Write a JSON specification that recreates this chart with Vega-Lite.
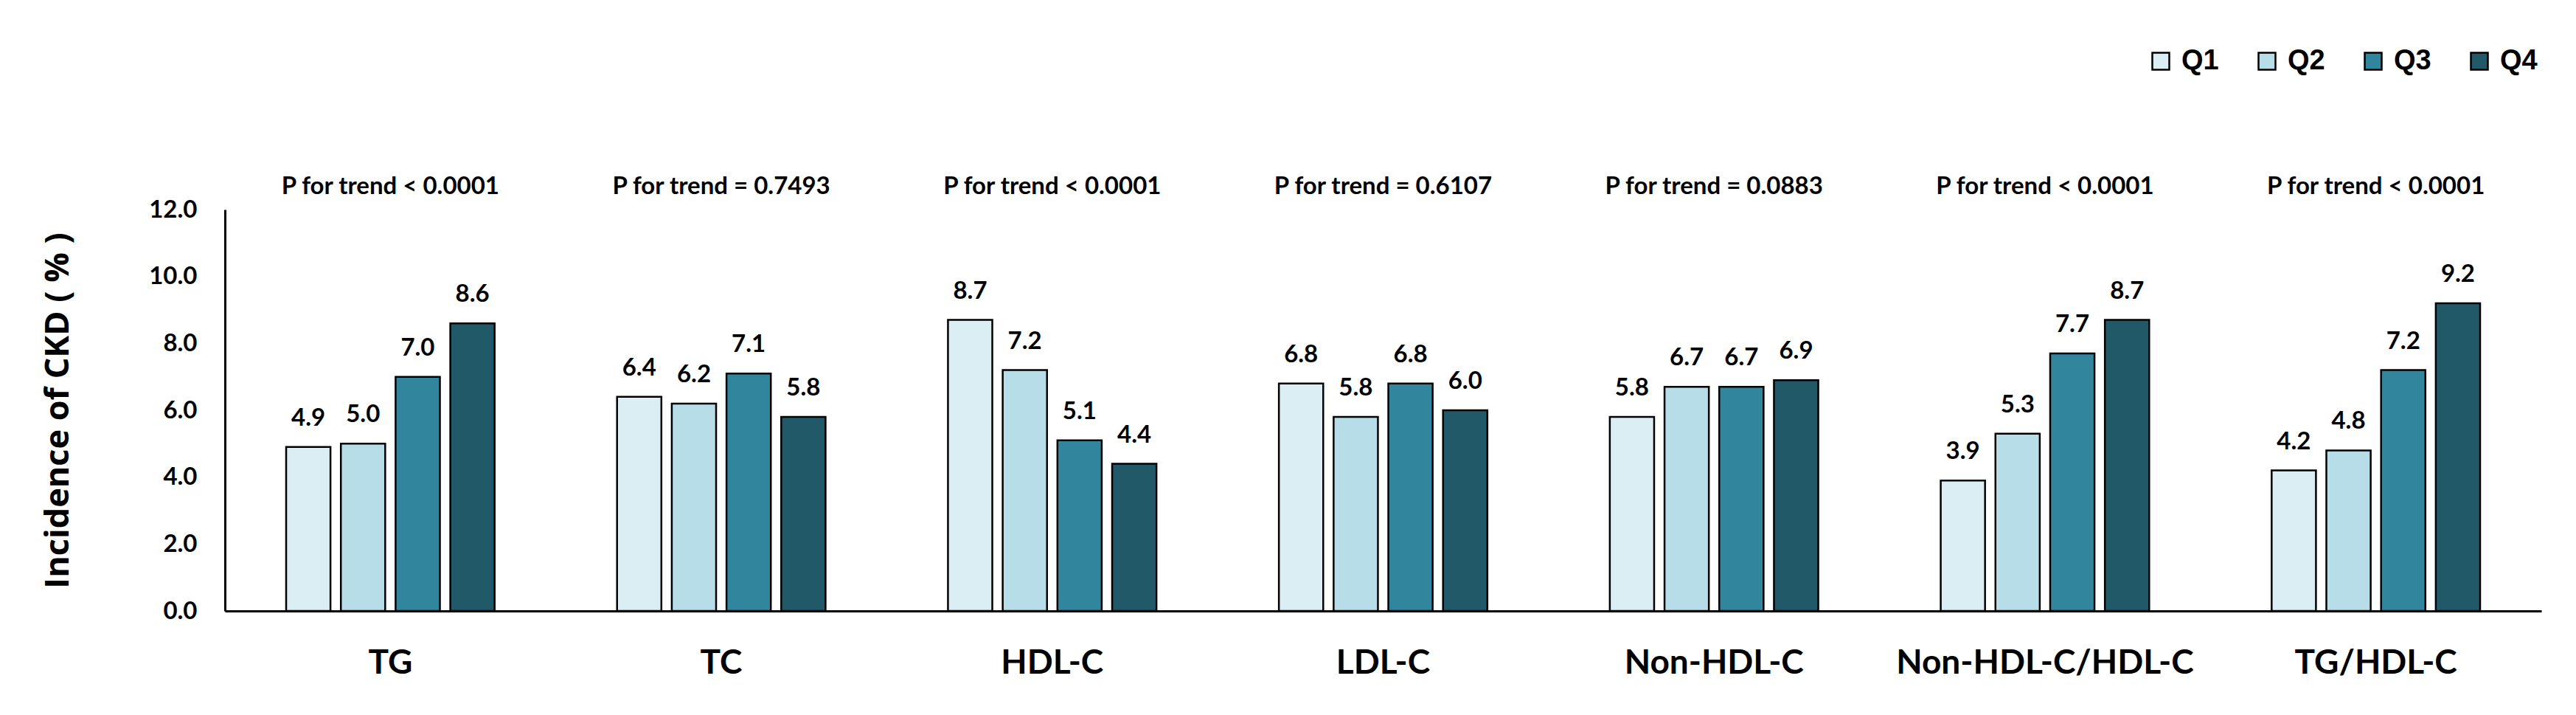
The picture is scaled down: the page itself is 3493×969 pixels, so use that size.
{
  "$schema": "https://vega.github.io/schema/vega-lite/v6.json",
  "width": 3141,
  "height": 544,
  "autosize": {"type": "none"},
  "padding": {"left": 305, "top": 284, "right": 47, "bottom": 141},
  "background": "white",
  "config": {"view": {"stroke": null}, "font": "Lato"},
  "datasets": {
    "bars": [
      {"lipid": "TG", "quartile": "Q1", "incidence": 4.9},
      {"lipid": "TG", "quartile": "Q2", "incidence": 5.0},
      {"lipid": "TG", "quartile": "Q3", "incidence": 7.0},
      {"lipid": "TG", "quartile": "Q4", "incidence": 8.6},
      {"lipid": "TC", "quartile": "Q1", "incidence": 6.4},
      {"lipid": "TC", "quartile": "Q2", "incidence": 6.2},
      {"lipid": "TC", "quartile": "Q3", "incidence": 7.1},
      {"lipid": "TC", "quartile": "Q4", "incidence": 5.8},
      {"lipid": "HDL-C", "quartile": "Q1", "incidence": 8.7},
      {"lipid": "HDL-C", "quartile": "Q2", "incidence": 7.2},
      {"lipid": "HDL-C", "quartile": "Q3", "incidence": 5.1},
      {"lipid": "HDL-C", "quartile": "Q4", "incidence": 4.4},
      {"lipid": "LDL-C", "quartile": "Q1", "incidence": 6.8},
      {"lipid": "LDL-C", "quartile": "Q2", "incidence": 5.8},
      {"lipid": "LDL-C", "quartile": "Q3", "incidence": 6.8},
      {"lipid": "LDL-C", "quartile": "Q4", "incidence": 6.0},
      {"lipid": "Non-HDL-C", "quartile": "Q1", "incidence": 5.8},
      {"lipid": "Non-HDL-C", "quartile": "Q2", "incidence": 6.7},
      {"lipid": "Non-HDL-C", "quartile": "Q3", "incidence": 6.7},
      {"lipid": "Non-HDL-C", "quartile": "Q4", "incidence": 6.9},
      {"lipid": "Non-HDL-C/HDL-C", "quartile": "Q1", "incidence": 3.9},
      {"lipid": "Non-HDL-C/HDL-C", "quartile": "Q2", "incidence": 5.3},
      {"lipid": "Non-HDL-C/HDL-C", "quartile": "Q3", "incidence": 7.7},
      {"lipid": "Non-HDL-C/HDL-C", "quartile": "Q4", "incidence": 8.7},
      {"lipid": "TG/HDL-C", "quartile": "Q1", "incidence": 4.2},
      {"lipid": "TG/HDL-C", "quartile": "Q2", "incidence": 4.8},
      {"lipid": "TG/HDL-C", "quartile": "Q3", "incidence": 7.2},
      {"lipid": "TG/HDL-C", "quartile": "Q4", "incidence": 9.2}
    ],
    "trend": [
      {"lipid": "TG", "trend": "P for trend < 0.0001"},
      {"lipid": "TC", "trend": "P for trend = 0.7493"},
      {"lipid": "HDL-C", "trend": "P for trend < 0.0001"},
      {"lipid": "LDL-C", "trend": "P for trend = 0.6107"},
      {"lipid": "Non-HDL-C", "trend": "P for trend = 0.0883"},
      {"lipid": "Non-HDL-C/HDL-C", "trend": "P for trend < 0.0001"},
      {"lipid": "TG/HDL-C", "trend": "P for trend < 0.0001"}
    ]
  },
  "layer": [
    {
      "data": {"name": "bars"},
      "mark": {"type": "bar", "stroke": "black", "strokeWidth": 2.5},
      "encoding": {
        "x": {
          "field": "lipid", "type": "nominal",
          "sort": ["TG", "TC", "HDL-C", "LDL-C", "Non-HDL-C", "Non-HDL-C/HDL-C", "TG/HDL-C"],
          "scale": {"paddingInner": 0.37, "paddingOuter": 0.185},
          "axis": {"title": null, "labelAngle": 0, "labelLimit": 0, "ticks": false, "domainColor": "black", "domainWidth": 3, "labelFontSize": 46, "labelFontWeight": "bold", "labelColor": "black", "labelPadding": 48, "labelFont": "Lato"}
        },
        "xOffset": {"field": "quartile", "type": "nominal", "sort": ["Q1", "Q2", "Q3", "Q4"], "scale": {"paddingInner": 0.19, "paddingOuter": 0}},
        "y": {
          "field": "incidence", "type": "quantitative",
          "scale": {"domain": [0, 12], "nice": false},
          "axis": {"title": "Incidence of CKD ( % )", "values": [0, 2, 4, 6, 8, 10, 12], "format": ".1f", "grid": false, "ticks": false, "domainColor": "black", "domainWidth": 3, "labelFontSize": 33, "labelFontWeight": "bold", "labelColor": "black", "labelPadding": 38, "titleFont": "Open Sans", "titleFontSize": 45, "titleFontWeight": "bold", "titleColor": "black", "titlePadding": 100}
        },
        "color": {
          "field": "quartile", "type": "nominal",
          "scale": {"domain": ["Q1", "Q2", "Q3", "Q4"], "range": ["#DAEEF3", "#B7DEE8", "#31859C", "#215968"]},
          "legend": {"orient": "none", "legendX": 2606, "legendY": -220, "direction": "horizontal", "title": null, "symbolType": "square", "symbolSize": 529, "symbolStrokeColor": "black", "symbolStrokeWidth": 2.5, "labelFont": "Liberation Sans", "labelFontWeight": "bold", "labelFontSize": 38, "labelColor": "black", "labelOffset": 9, "columnPadding": 46}
        }
      }
    },
    {
      "data": {"name": "bars"},
      "mark": {"type": "text", "dy": -39, "baseline": "middle", "fontWeight": "bold", "fontSize": 33, "color": "black"},
      "encoding": {
        "x": {"field": "lipid", "type": "nominal", "sort": ["TG", "TC", "HDL-C", "LDL-C", "Non-HDL-C", "Non-HDL-C/HDL-C", "TG/HDL-C"]},
        "xOffset": {"field": "quartile", "type": "nominal", "sort": ["Q1", "Q2", "Q3", "Q4"]},
        "y": {"field": "incidence", "type": "quantitative"},
        "text": {"field": "incidence", "type": "quantitative", "format": ".1f"}
      }
    },
    {
      "data": {"name": "trend"},
      "mark": {"type": "text", "baseline": "middle", "fontWeight": "bold", "fontSize": 33, "color": "black"},
      "encoding": {
        "x": {"field": "lipid", "type": "nominal", "sort": ["TG", "TC", "HDL-C", "LDL-C", "Non-HDL-C", "Non-HDL-C/HDL-C", "TG/HDL-C"]},
        "y": {"datum": 12.68},
        "text": {"field": "trend", "type": "nominal"}
      }
    }
  ]
}
